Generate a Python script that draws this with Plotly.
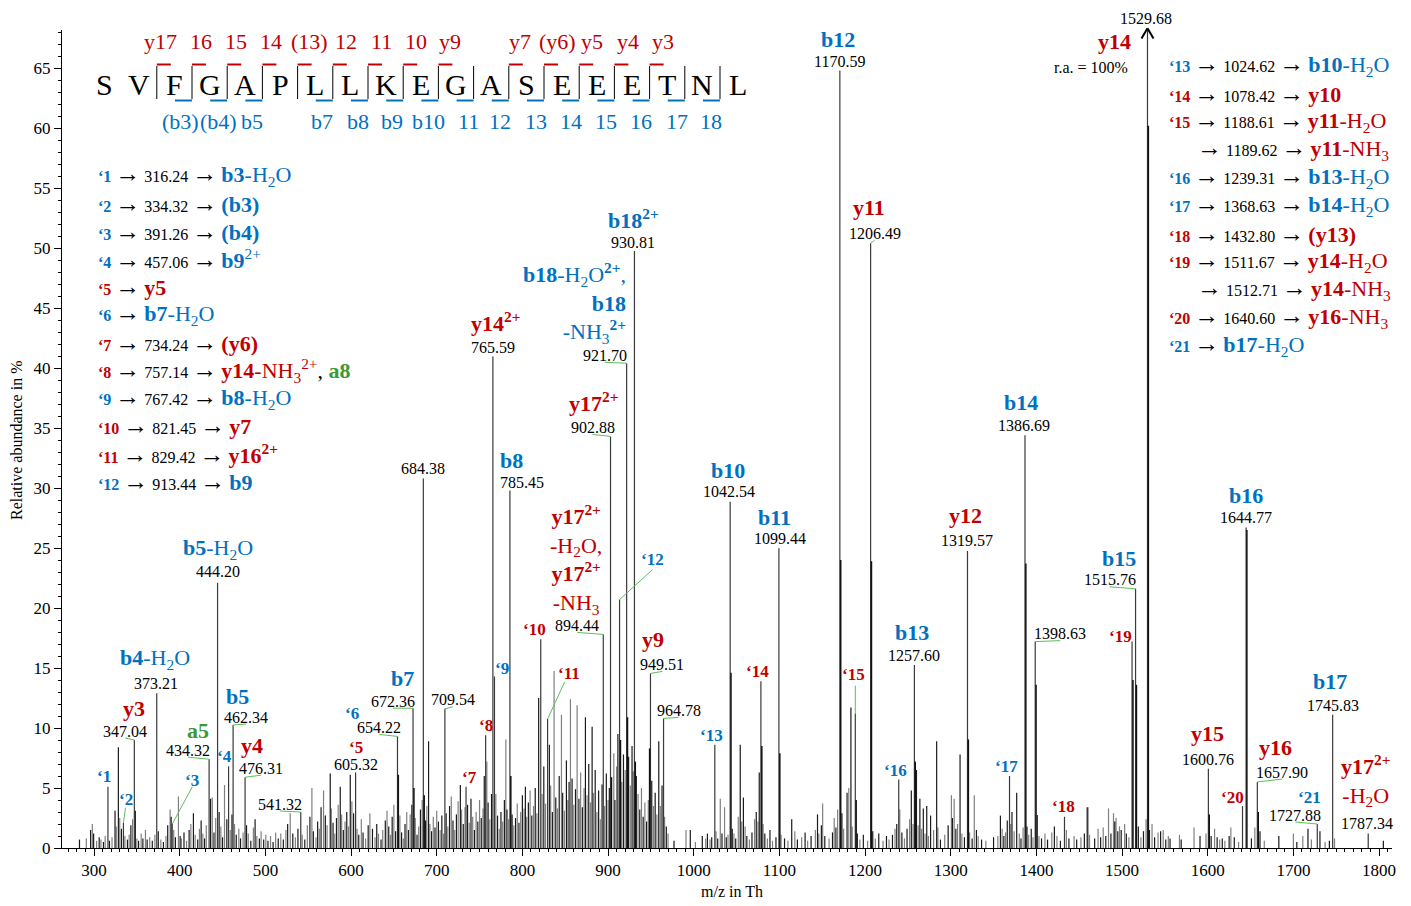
import plotly.graph_objects as go

FONT = "Liberation Serif, Times New Roman, serif"
BLUE, RED, GREEN, LEADER = "#0070C0", "#C00000", "#3A9A3A", "#5CBF5C"
KIND_COLOR = {"b": BLUE, "y": RED, "a": GREEN, "": "black"}

# ---------------------------------------------------------------- data
# labelled fragment peaks (m/z, relative abundance in %)
frag_mz = [347.04, 373.21, 434.32, 444.20, 462.34, 476.31, 541.32, 605.32, 654.22,
           672.36, 684.38, 709.54, 765.59, 785.45, 894.44, 902.88, 921.70, 930.81,
           949.51, 964.78, 1042.54, 1099.44, 1170.59, 1206.49, 1257.60, 1319.57,
           1386.69, 1398.63, 1515.76, 1529.68, 1600.76, 1644.77, 1657.90, 1727.88,
           1745.83, 1787.34]
frag_ab = [9.0, 12.9, 7.4, 22.1, 10.25, 5.9, 3.0, 6.3, 9.3,
           11.65, 30.8, 11.6, 40.95, 29.8, 17.8, 34.3, 40.4, 49.75,
           14.55, 10.8, 28.85, 24.97, 64.8, 50.4, 15.25, 24.75,
           34.4, 17.2, 21.6, 100.0, 6.6, 26.7, 5.5, 2.0,
           11.1, 1.2]
frag_kind = ["y", "b", "a", "b", "b", "y", "", "", "",
             "b", "", "", "y", "b", "y", "y", "b", "b",
             "y", "", "b", "b", "b", "y", "b", "y",
             "b", "", "b", "y", "y", "b", "y", "",
             "b", "y"]
frag_ion = ["<b>y3</b>", "<b>b4</b>-H<sub>2</sub>O", "<b>a5</b>", "<b>b5</b>-H<sub>2</sub>O",
            "<b>b5</b>", "<b>y4</b>", "", "", "",
            "<b>b7</b>", "", "", "<b>y14<sup>2+</sup></b>", "<b>b8</b>",
            "<b>y17<sup>2+</sup></b><br>-H<sub>2</sub>O,<br><b>y17<sup>2+</sup></b><br>-NH<sub>3</sub>",
            "<b>y17<sup>2+</sup></b>",
            "<b>b18</b>-H<sub>2</sub>O<b><sup>2+</sup></b>,<br><b>b18</b><br>-NH<sub>3</sub><b><sup>2+</sup></b>",
            "<b>b18<sup>2+</sup></b>", "<b>y9</b>", "",
            "<b>b10</b>", "<b>b11</b>", "<b>b12</b>", "<b>y11</b>", "<b>b13</b>", "<b>y12</b>",
            "<b>b14</b>", "", "<b>b15</b>", "<b>y14</b>", "<b>y15</b>", "<b>b16</b>", "<b>y16</b>", "",
            "<b>b17</b>", "<b>y17<sup>2+</sup></b><br>-H<sub>2</sub>O"]

# numbered peaks '1 ... '21
mark_mz = [316.24, 334.32, 391.26, 457.06, 605.32, 654.22, 734.24, 757.14, 767.42,
           821.45, 829.42, 913.44, 1024.62, 1078.42, 1188.61, 1239.31, 1368.63,
           1432.80, 1511.67, 1640.60, 1727.88]
mark_ab = [5.1, 2.1, 2.0, 6.8, 6.3, 9.3, 5.1, 9.4, 14.3,
           17.4, 10.75, 20.7, 8.6, 13.9, 11.2, 5.7, 6.0,
           2.6, 17.2, 3.5, 2.0]
mark_kind = ["b", "b", "b", "b", "y", "b", "y", "y", "b",
             "y", "y", "b", "b", "y", "y", "b", "b",
             "y", "y", "y", "b"]
mark_ion = ["<b>b3</b>-H<sub>2</sub>O", "<b>(b3)</b>", "<b>(b4)</b>", "<b>b9</b><sup>2+</sup>",
            "<b>y5</b>", "<b>b7</b>-H<sub>2</sub>O", "<b>(y6)</b>",
            "<b>y14</b>-NH<sub>3</sub><sup>2+</sup><span style='color:black'>, </span>"
            "<span style='color:#3A9A3A'><b>a8</b></span>",
            "<b>b8</b>-H<sub>2</sub>O", "<b>y7</b>", "<b>y16<sup>2+</sup></b>", "<b>b9</b>",
            "<b>b10</b>-H<sub>2</sub>O", "<b>y10</b>", "<b>y11</b>-H<sub>2</sub>O",
            "<b>b13</b>-H<sub>2</sub>O", "<b>b14</b>-H<sub>2</sub>O", "<b>(y13)</b>",
            "<b>y14</b>-H<sub>2</sub>O", "<b>y16</b>-NH<sub>3</sub>", "<b>b17</b>-H<sub>2</sub>O"]
# peaks whose m/z is already written in the spectrum are listed without it
mark_quote_mz = [True, True, True, True, False, False, True, True, True,
                 True, True, True, True, True, True, True, True,
                 True, True, True, False]

# second assignments listed under '15 and '19
extra_after = [15, 19]
extra_mz = [1189.62, 1512.71]
extra_ion = ["<b>y11</b>-NH<sub>3</sub>", "<b>y14</b>-NH<sub>3</sub>"]

# isotope shoulders next to the main peaks
shoulder_mz = [655.2, 673.4, 685.4, 786.5, 904.0, 914.5, 922.7, 931.8, 948.5, 1043.5,
               1079.5, 1100.5, 1171.6, 1189.62, 1207.5, 1258.6, 1320.6, 1387.7, 1399.6,
               1512.71, 1516.8, 1530.7, 1601.8, 1645.7, 1659.0]
shoulder_ab = [6.1, 5.0, 4.4, 6.0, 5.9, 9.0, 10.9, 7.2, 8.3, 14.6,
               8.5, 7.9, 24.0, 4.0, 23.9, 7.2, 9.05, 23.7, 13.6,
               14.0, 13.6, 60.2, 2.8, 26.5, 3.0]

# unassigned background peaks
noise_mz = [
    283.0, 291.0, 296.0, 298.0, 299.5, 303.0, 306.0, 308.0, 311.0, 313.0,
    318.0, 321.0, 324.5, 326.0, 328.4, 330.0, 332.0, 336.0, 339.0, 341.0,
    343.0, 345.0, 348.2, 350.0, 352.0, 355.0, 357.0, 360.0, 362.0, 365.0,
    368.0, 371.0, 375.0, 378.0, 381.0, 384.0, 386.0, 388.8, 390.0, 393.0,
    395.0, 398.5, 400.5, 402.0, 405.0, 408.0, 411.0, 413.0, 416.0, 418.0,
    421.0, 423.0, 425.0, 427.0, 429.0, 431.0, 436.0, 438.0, 440.0, 442.0,
    446.0, 448.0, 450.0, 452.3, 455.0, 459.0, 461.0, 464.0, 466.0, 469.0,
    471.0, 474.0, 478.0, 480.0, 483.0, 486.0, 488.0, 490.0, 493.0, 495.0,
    498.0, 500.5, 503.0, 506.0, 509.0, 512.0, 515.0, 518.0, 521.0, 524.0,
    526.0, 529.0, 532.0, 535.0, 538.0, 543.0, 546.0, 549.0, 552.0, 554.3,
    556.0, 559.0, 561.0, 563.0, 565.0, 567.9, 570.0, 572.0, 575.7, 577.0,
    579.0, 581.0, 583.0, 585.0, 587.4, 589.0, 591.0, 593.0, 595.0, 597.0,
    599.1, 601.0, 603.0, 607.0, 609.0, 612.0, 614.0, 617.0, 620.0, 622.0,
    625.0, 628.0, 630.0, 632.0, 635.0, 637.0, 640.0, 642.0, 644.0, 646.0,
    648.0, 650.0, 652.0, 657.0, 659.0, 661.0, 663.0, 665.0, 667.0, 669.0,
    671.0, 675.0, 677.0, 679.0, 681.0, 683.0, 687.0, 688.5, 690.5, 692.0,
    694.0, 696.0, 698.0, 700.0, 702.0, 704.0, 706.0, 708.0, 711.0, 713.0,
    715.0, 717.0, 719.0, 721.0, 723.0, 725.0, 727.6, 729.0, 731.0, 733.0,
    736.0, 738.0, 740.0, 742.0, 744.0, 746.0, 748.0, 750.0, 752.0, 754.0,
    755.5, 758.5, 760.0, 762.0, 764.0, 769.0, 771.0, 773.0, 775.0, 777.0,
    779.0, 780.7, 782.0, 784.0, 788.0, 790.0, 792.0, 794.0, 796.0, 798.0,
    800.0, 802.0, 803.5, 805.0, 807.0, 809.0, 811.0, 813.0, 815.0, 817.0,
    819.0, 823.0, 825.0, 827.0, 831.5, 833.0, 835.0, 837.0, 839.0, 841.0,
    843.0, 845.6, 847.0, 849.0, 851.4, 853.0, 854.5, 856.1, 858.0, 860.0,
    862.0, 863.9, 866.0, 868.0, 870.0, 872.0, 873.6, 875.5, 877.5, 879.5,
    881.4, 883.0, 885.0, 887.0, 889.0, 891.0, 893.0, 896.0, 898.0, 900.0,
    901.5, 906.7, 908.0, 910.0, 911.5, 916.0, 918.0, 920.0, 924.0, 926.0,
    928.0, 929.5, 933.0, 935.0, 937.0, 939.0, 941.0, 943.0, 945.0, 947.0,
    951.0, 953.0, 955.0, 957.0, 959.2, 961.0, 963.0, 966.0, 968.0, 970.0,
    977.0, 991.0, 996.0, 1002.0, 1010.0, 1014.0, 1016.0, 1019.0, 1021.0, 1026.0,
    1028.0, 1031.0, 1033.0, 1036.0, 1038.0, 1040.0, 1045.0, 1047.0, 1049.0, 1052.0,
    1054.3, 1056.0, 1058.0, 1060.0, 1062.0, 1065.0, 1068.0, 1071.0, 1073.0, 1075.0,
    1076.5, 1081.0, 1083.0, 1086.0, 1089.0, 1092.0, 1096.0, 1102.0, 1106.0, 1110.0,
    1114.4, 1118.0, 1121.0, 1126.0, 1130.0, 1133.0, 1137.0, 1142.0, 1144.5, 1146.0,
    1149.0, 1150.5, 1153.0, 1158.0, 1162.0, 1164.0, 1166.0, 1168.0, 1173.0, 1175.0,
    1179.0, 1181.0, 1183.5, 1185.0, 1191.0, 1194.0, 1198.0, 1203.0, 1209.0, 1212.0,
    1216.0, 1221.0, 1225.0, 1228.0, 1232.0, 1235.0, 1237.0, 1240.5, 1243.0, 1246.0,
    1249.0, 1252.0, 1254.0, 1256.0, 1260.0, 1262.0, 1264.0, 1266.0, 1268.0, 1270.0,
    1272.0, 1274.0, 1276.5, 1280.0, 1283.6, 1285.0, 1288.0, 1293.0, 1297.0, 1300.8,
    1302.0, 1304.0, 1306.0, 1308.0, 1310.9, 1313.0, 1316.0, 1322.0, 1325.0, 1327.5,
    1330.0, 1332.0, 1336.0, 1341.0, 1350.0, 1355.0, 1358.0, 1360.0, 1362.0, 1364.0,
    1366.0, 1370.0, 1371.5, 1374.0, 1377.0, 1380.0, 1382.0, 1384.5, 1389.0, 1391.0,
    1394.0, 1396.0, 1401.0, 1403.0, 1406.0, 1410.0, 1413.0, 1418.0, 1421.0, 1424.0,
    1428.0, 1435.0, 1438.0, 1444.0, 1447.0, 1452.0, 1456.0, 1458.9, 1460.0, 1462.0,
    1468.0, 1472.0, 1475.0, 1478.0, 1481.0, 1484.2, 1487.0, 1490.0, 1491.5, 1493.0,
    1495.0, 1497.0, 1499.0, 1503.0, 1505.0, 1508.0, 1519.0, 1522.0, 1525.0, 1528.0,
    1532.0, 1535.0, 1538.0, 1542.0, 1545.0, 1548.0, 1551.0, 1554.0, 1556.0, 1567.0,
    1569.0, 1584.0, 1591.0, 1598.0, 1604.0, 1608.0, 1611.0, 1614.0, 1617.0, 1620.0,
    1625.0, 1627.0, 1631.0, 1636.0, 1651.0, 1655.0, 1661.0, 1666.0, 1683.0, 1700.0,
    1704.0, 1711.0, 1717.0, 1721.0, 1731.0, 1737.0, 1742.0, 1748.0, 1805.0]
noise_ab = [
    0.7, 0.8, 1.5, 2.0, 1.2, 0.6, 0.9, 0.7, 0.5, 1.0,
    0.6, 0.9, 3.1, 1.8, 8.4, 2.5, 1.6, 1.0, 0.7, 1.1,
    1.9, 2.4, 3.1, 0.8, 0.6, 1.2, 0.8, 1.5, 0.7, 0.9,
    0.6, 1.1, 1.4, 0.7, 0.5, 1.0, 1.9, 3.2, 2.6, 1.5,
    0.9, 4.3, 1.0, 0.8, 1.3, 0.6, 1.5, 2.0, 2.9, 1.1,
    0.7, 1.6, 2.3, 1.2, 0.8, 1.9, 4.1, 4.2, 1.3, 2.5,
    3.0, 1.8, 0.9, 5.25, 2.4, 1.5, 2.8, 2.0, 1.1, 1.6,
    0.8, 1.3, 1.9, 1.2, 0.6, 1.7, 2.4, 1.0, 0.8, 1.4,
    0.7, 1.1, 0.6, 1.0, 0.5, 1.3, 0.8, 1.2, 0.7, 1.5,
    2.0, 2.9, 1.2, 0.9, 1.6, 1.1, 0.7, 1.9, 2.6, 5.0,
    1.4, 0.9, 2.2, 1.6, 3.4, 4.8, 2.7, 1.9, 6.2, 3.3,
    2.1, 1.2, 2.5, 3.6, 5.1, 2.8, 1.5, 2.2, 3.0, 1.8,
    6.1, 3.9, 2.9, 1.6, 1.1, 2.4, 1.3, 0.8, 1.9, 2.9,
    1.6, 0.9, 2.0, 1.2, 0.7, 1.5, 2.3, 3.1, 1.8, 1.1,
    2.6, 3.6, 1.4, 2.7, 1.3, 0.8, 2.0, 3.0, 1.5, 2.8,
    3.6, 2.5, 1.1, 1.8, 3.2, 4.0, 2.3, 3.5, 8.9, 2.0,
    1.4, 2.6, 1.7, 3.1, 2.2, 1.5, 2.7, 1.2, 2.9, 1.8,
    3.5, 4.3, 2.3, 1.5, 2.8, 3.9, 5.25, 3.2, 2.0, 3.4,
    3.6, 2.1, 4.1, 2.6, 1.5, 3.0, 2.2, 4.0, 2.5, 3.3,
    6.0, 7.2, 3.8, 2.4, 4.5, 4.5, 2.7, 1.6, 3.0, 2.2,
    4.0, 9.05, 3.2, 2.4, 2.8, 1.9, 2.5, 3.7, 2.1, 3.0,
    4.4, 3.3, 5.1, 2.6, 3.8, 4.8, 2.7, 3.5, 5.0, 2.9,
    12.5, 4.5, 6.8, 3.7, 8.6, 5.2, 3.0, 14.75, 4.2, 3.3,
    6.0, 11.1, 4.6, 3.1, 7.3, 4.0, 5.5, 12.4, 5.8, 3.6,
    4.9, 11.9, 4.1, 6.3, 3.4, 5.0, 10.9, 4.4, 7.0, 3.8,
    10.1, 4.6, 6.5, 3.0, 4.8, 2.4, 5.3, 3.5, 6.2, 4.0,
    5.0, 7.9, 4.0, 6.8, 9.5, 5.5, 7.8, 6.5, 7.6, 5.2,
    8.5, 6.4, 6.0, 4.5, 3.2, 5.0, 2.6, 3.8, 2.2, 4.0,
    5.6, 3.5, 4.6, 2.8, 8.9, 3.5, 5.2, 2.6, 1.8, 1.2,
    0.6, 1.5, 1.5, 0.5, 1.0, 0.8, 1.2, 0.7, 0.9, 1.4,
    0.8, 4.1, 1.2, 3.4, 0.9, 1.1, 1.6, 1.2, 0.8, 2.6,
    8.6, 2.2, 4.2, 1.8, 1.0, 0.7, 1.3, 2.4, 3.0, 2.2,
    6.3, 2.0, 1.2, 0.8, 1.5, 0.6, 0.9, 1.1, 0.8, 0.6,
    2.4, 1.4, 0.7, 0.9, 1.3, 0.6, 1.0, 1.5, 2.8, 1.2,
    1.9, 3.7, 1.0, 0.8, 1.3, 2.5, 1.7, 3.2, 2.9, 1.6,
    4.6, 5.0, 11.7, 1.8, 1.2, 0.7, 1.1, 0.6, 1.4, 0.8,
    1.2, 0.6, 1.0, 0.7, 1.1, 1.6, 2.0, 3.2, 1.3, 0.8,
    1.6, 2.4, 4.8, 2.0, 6.5, 1.9, 4.1, 1.6, 3.3, 1.2,
    3.5, 1.0, 2.7, 1.5, 8.9, 1.7, 0.7, 1.1, 1.9, 4.4,
    2.5, 4.1, 1.6, 2.0, 7.8, 1.2, 0.9, 1.3, 0.8, 4.4,
    1.5, 1.0, 0.7, 0.6, 0.9, 1.0, 2.7, 1.6, 1.0, 1.3,
    2.3, 2.0, 3.0, 1.4, 4.6, 1.2, 0.8, 1.7, 1.8, 1.1,
    1.6, 0.9, 2.75, 1.0, 0.8, 1.2, 0.7, 1.3, 1.8, 1.0,
    0.6, 1.5, 0.8, 1.0, 0.7, 0.9, 1.2, 3.4, 3.4, 1.1,
    0.8, 1.6, 0.9, 1.7, 1.0, 3.3, 1.2, 2.9, 2.2, 2.5,
    1.4, 1.8, 1.5, 2.0, 1.2, 0.9, 1.8, 0.9, 1.4, 2.4,
    1.5, 2.0, 0.9, 1.3, 1.4, 1.5, 0.7, 1.0, 0.8, 1.1,
    0.7, 1.7, 1.0, 1.2, 1.0, 1.6, 0.9, 0.7, 0.8, 0.6,
    1.0, 1.7, 0.9, 0.5, 0.8, 1.7, 1.4, 0.6, 1.0, 1.2,
    0.5, 1.0, 1.6, 0.7, 1.4, 0.5, 0.6, 0.8, 0.6]

# peptide sequence with fragment marks at each of the 17 inner cleavage sites
sequence = "SVFGAPLLKEGASEEETNL"
y_marks = ["y17", "16", "15", "14", "(13)", "12", "11", "10", "y9", "",
           "y7", "(y6)", "y5", "y4", "y3", "", ""]
b_marks = ["", "(b3)", "(b4)", "b5", "", "b7", "b8", "b9", "b10", "11",
           "12", "13", "14", "15", "16", "17", "18"]

# ---------------------------------------------------------------- geometry
W, H = 1411, 906
ML, MR, MT, MB = 62, 19, 30, 58
PW, PH = W - ML - MR, H - MT - MB


def px(xp):
    return (xp - ML) / PW


def py(yp):
    return (H - MB - yp) / PH


# label placement relative to each peak top (screen px: dx right, dy down)
num_off = [(-9, -9), (-1, -10), (-21, -9), (0, -11), (13, -8), (16, -9), (-21, -8), (0, -8), (-18, -9),
           (-20, -7), (0, -10), (8, -9), (0, -9), (12, -8), (-26, -9), (-18, -9), (-22, -8), (-1, -9),
           (12, -9), (15, -8), (-1, -10), (1, -10), (0, -9), (4, -10), (0, -10), (0, -11),
           (-1, -10), (25, -8), (-26, -9), None, (0, -9), (0, -10), (25, -10), (-22, -9),
           (0, -9), (-1, -10)]
num_lead = [True, False, True, False, True, True, True, False, True,
            True, False, True, False, False, True, True, True, False,
            True, True, False, False, False, True, False, False,
            False, True, True, False, False, False, True, True,
            False, False]
ion_off = [(0, -32), (-2, -34), (-11, -29), (0, -34), (4, -29), (7, -32), None, None, None,
           (-11, -30), None, None, (3, -35), (2, -30), (-27, -75), (-17, -34), (1, -60), (-1, -32),
           (3, -34), None, (-2, -31), (-4, -31), (-2, -31), (-2, -36), (-2, -33), (-2, -36),
           (-4, -33), None, (-17, -30), None, (-1, -35), (0, -32), (18, -35), None,
           (-3, -33), (-3, -53)]
mark_off = [(-4, -10), (3, -23), (20, -44), (-4, -10), (0, -25), (-45, -23), (3, -9), (0, -10), (8, -8),
            (-6, -10), (21, -46), (33, -40), (-3, -9), (-3, -10), (-2, -39), (-3, -9), (-3, -10),
            (-1, -10), (-12, -5), (-10, -9), (-8, -27)]
mark_lead = [None, (2, -15), (20, -37), None, None, None, None, None, None,
             None, (17, -37), (33, -30), None, None, (0, -28), None, None,
             None, None, None, None]

# ---------------------------------------------------------------- traces
fig = go.Figure()


def sticks(mzs, abds):
    xs, ys = [], []
    for m, a in zip(mzs, abds):
        xs += [m, m, None]
        ys += [0, a, None]
    return xs, ys


nx_dark, ny_dark = sticks(noise_mz[0::2], noise_ab[0::2])
nx_grey, ny_grey = sticks(noise_mz[1::2], noise_ab[1::2])
fig.add_trace(go.Scatter(x=nx_grey, y=ny_grey, mode="lines",
                         line=dict(color="#808080", width=1.2), hoverinfo="skip"))
fig.add_trace(go.Scatter(x=nx_dark, y=ny_dark, mode="lines",
                         line=dict(color="#1a1a1a", width=1.2), hoverinfo="skip"))

main_mz = frag_mz + [m for m in mark_mz if m not in frag_mz]
main_ab = frag_ab + [a for m, a in zip(mark_mz, mark_ab) if m not in frag_mz]
mx, my = sticks(main_mz, main_ab)
fig.add_trace(go.Scatter(x=mx, y=my, mode="lines",
                         line=dict(color="#3a3a3a", width=1.2), hoverinfo="skip"))
sx, sy = sticks(shoulder_mz, shoulder_ab)
fig.add_trace(go.Scatter(x=sx, y=sy, mode="lines",
                         line=dict(color="#111111", width=1.5), hoverinfo="skip"))

annotations = []
shapes = []


def text_at(x, y, text, dx, dy, size, color="black", xanchor="center", align="center",
            xref="x", yref="y", angle=0):
    annotations.append(dict(x=x, y=y, xref=xref, yref=yref, text=text, showarrow=False,
                            xshift=dx, yshift=-dy, xanchor=xanchor, yanchor="middle",
                            align=align, textangle=angle,
                            font=dict(family=FONT, size=size, color=color)))


def leader(x, y, ex, ey, yref="y", color=LEADER):
    shapes.append(dict(type="line", xref="x", yref=yref, xsizemode="pixel", ysizemode="pixel",
                       xanchor=x, yanchor=y, x0=0, y0=0, x1=ex, y1=-ey,
                       line=dict(color=color, width=1)))


# m/z values and ion names above the labelled peaks
for i, (m, a) in enumerate(zip(frag_mz, frag_ab)):
    if num_off[i] is None:
        continue
    dx, dy = num_off[i]
    text_at(m, a, f"{m:.2f}", dx, dy, 16)
    if num_lead[i]:
        leader(m, a, dx, dy + 7)
    if ion_off[i] is not None and frag_ion[i]:
        idx, idy = ion_off[i]
        if m == 921.70:
            text_at(m, a, frag_ion[i], idx, idy, 22, KIND_COLOR[frag_kind[i]],
                    xanchor="right", align="right")
        else:
            text_at(m, a, frag_ion[i], idx, idy, 22, KIND_COLOR[frag_kind[i]])

# base peak, off scale: arrow + labels at the top of the frame
bp = frag_ab.index(max(frag_ab))
bp_mz = frag_mz[bp]
text_at(bp_mz, 1, f"{bp_mz:.2f}", -1, -12, 16, yref="paper")
text_at(bp_mz, 1, frag_ion[bp], -33, 11, 22, KIND_COLOR[frag_kind[bp]], yref="paper")
text_at(bp_mz, 1, f"r.a. = {frag_ab[bp]:.0f}%", -56, 37, 16, yref="paper")
for side in (-6, 6):
    shapes.append(dict(type="line", xref="x", yref="paper", xsizemode="pixel", ysizemode="pixel",
                       xanchor=bp_mz, yanchor=1, x0=0, y0=1.8, x1=side, y1=-8.5,
                       line=dict(color="black", width=2)))

# numbered markers in the spectrum
for k, (m, a) in enumerate(zip(mark_mz, mark_ab)):
    dx, dy = mark_off[k]
    text_at(m, a, f"<b>\u2018{k + 1}</b>", dx, dy, 17, KIND_COLOR[mark_kind[k]])
    if mark_lead[k] is not None:
        leader(m, a, mark_lead[k][0], mark_lead[k][1])

# assignment lists
ARROW_GLYPH = "<span style='font-size:25px'>\u2192</span>"
ARROW = "\u00a0" + ARROW_GLYPH + "\u00a0"


def row_text(k):
    col = KIND_COLOR[mark_kind[k]]
    s = f"<span style='color:{col}'><b>\u2018{k + 1}</b></span>{ARROW}"
    if mark_quote_mz[k]:
        s += f"{mark_mz[k]:.2f}{ARROW}"
    s += f"<span style='color:{col};font-size:22px'>{mark_ion[k]}</span>"
    return s


left_rows_y = [175, 203, 231, 258.5, 286.5, 313.5, 342, 370, 397.5, 425.5, 453.5, 481]
for k in range(12):
    text_at(px(96), py(left_rows_y[k]), row_text(k), 0, 0, 16, xanchor="left", align="left",
            xref="paper", yref="paper")

right_rows_y = [65, 93, 121, 149, 177, 205, 233, 261, 289, 317, 345]
r = 0
for k in range(12, 21):
    text_at(px(1167), py(right_rows_y[r]), row_text(k), 0, 0, 16, xanchor="left", align="left",
            xref="paper", yref="paper")
    r += 1
    if (k + 1) in extra_after:
        j = extra_after.index(k + 1)
        col = KIND_COLOR[mark_kind[k]]
        s = (f"{ARROW_GLYPH}\u00a0{extra_mz[j]:.2f}{ARROW}"
             f"<span style='color:{col};font-size:22px'>{extra_ion[j]}</span>")
        text_at(px(1195), py(right_rows_y[r]), s, 0, 0, 16, xanchor="left", align="left",
                xref="paper", yref="paper")
        r += 1

# peptide sequence header with cleavage marks
seq_x0, seq_step, seq_y = 104, 35.2, 84
for i, aa in enumerate(sequence):
    text_at(px(seq_x0 + seq_step * i), py(seq_y), aa, 0, 0, 30, xref="paper", yref="paper")

red_label_x = [160, 201, 236, 271, 309, 346, 381, 416, 450, None, 520, 557, 592, 628, 663, None, None]
blue_label_x = [None, 180, 218, 252, None, 322, 358, 392, 428, 468, 500, 536, 571, 606, 641, 677, 711]
for k in range(len(sequence) - 2):
    bx = seq_x0 + seq_step * (k + 1.5)
    shapes.append(dict(type="line", xref="paper", yref="paper", x0=px(bx), x1=px(bx),
                       y0=py(66), y1=py(99), line=dict(color="black", width=1)))
    if y_marks[k]:
        shapes.append(dict(type="line", xref="paper", yref="paper", x0=px(bx), x1=px(bx + 14),
                           y0=py(64.5), y1=py(64.5), line=dict(color=RED, width=2)))
        text_at(px(red_label_x[k]), py(41), y_marks[k], 0, 0, 22, RED, xref="paper", yref="paper")
    if b_marks[k]:
        shapes.append(dict(type="line", xref="paper", yref="paper", x0=px(bx - 17), x1=px(bx),
                           y0=py(100.5), y1=py(100.5), line=dict(color=BLUE, width=2)))
        text_at(px(blue_label_x[k]), py(121), b_marks[k], 0, 0, 22, BLUE, xref="paper", yref="paper")

# axis titles
text_at(px(732), py(892), "m/z in Th", 0, 0, 16, xref="paper", yref="paper")
text_at(px(17), py(440), "Relative abundance in %", 0, 0, 16, xref="paper", yref="paper", angle=-90)

axis_common = dict(showline=True, linecolor="black", linewidth=1, showgrid=False, zeroline=False,
                   ticks="outside", ticklen=7, tickwidth=1, tickcolor="black",
                   tickfont=dict(family=FONT, size=17, color="black"))
fig.update_xaxes(range=[262.6, 1815.1], dtick=100, tick0=0,
                 minor=dict(ticks="outside", ticklen=3, dtick=10, tickcolor="black", tickwidth=1),
                 **axis_common)
fig.update_yaxes(range=[0, 68.17], dtick=5, tick0=0,
                 minor=dict(ticks="outside", ticklen=3, dtick=1, tickcolor="black", tickwidth=1),
                 **axis_common)

fig.update_layout(width=W, height=H, margin=dict(l=ML, r=MR, t=MT, b=MB),
                  plot_bgcolor="white", paper_bgcolor="white", showlegend=False,
                  hovermode=False, annotations=annotations, shapes=shapes,
                  font=dict(family=FONT))

fig.write_html("out.html")
